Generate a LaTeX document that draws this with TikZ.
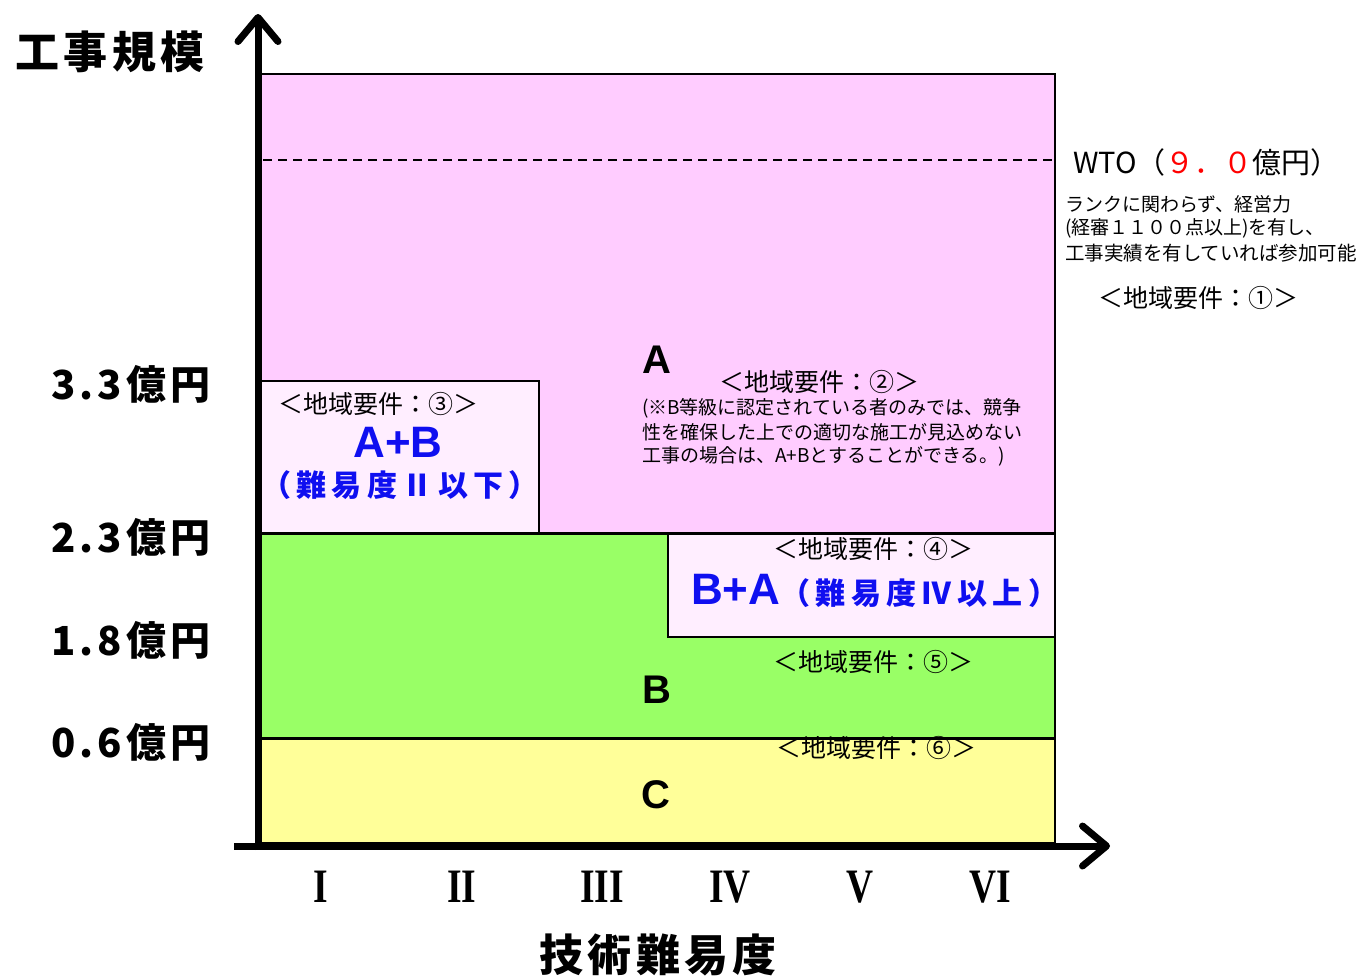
\documentclass[tikz,border=0pt]{standalone}
\usepackage{fontspec}
\usetikzlibrary{arrows.meta}
\setmainfont{Liberation Sans}
\newfontfamily\jp{Noto Sans CJK JP}
\newfontfamily\jpsa{Noto Sans CJK JP}[LetterSpace=10]
\newfontfamily\jpsb{Noto Sans CJK JP}[LetterSpace=18]
\newfontfamily\romanf{Liberation Serif}
\newcommand\fsz[1]{\fontsize{#1}{#1}\selectfont}
\definecolor{pinkA}{RGB}{255,204,255}
\definecolor{greenB}{RGB}{153,255,102}
\definecolor{yellowC}{RGB}{255,255,153}
\definecolor{lightbox}{RGB}{255,238,255}
\definecolor{tblue}{RGB}{15,15,240}
\definecolor{tred}{RGB}{255,0,0}
\begin{document}
\begin{tikzpicture}[x=1pt,y=-1pt,
  txt/.style={inner sep=0pt, outer sep=0pt},
  req/.style={txt, font=\jp\fsz{25}},
  small/.style={txt, font=\jp\fsz{19}, anchor=west},
  ylab/.style={txt, font=\jpsa\bfseries\fsz{40}, anchor=east},
  roman/.style={txt, font=\romanf\bfseries\fsz{48}, xscale=0.78},
  zone/.style={txt, font=\bfseries\fsz{40}},
  border/.style={line width=2.5pt},
  axis/.style={line width=7pt, -{Straight Barb[round,length=24pt,width=40pt]}}]
\useasboundingbox (0,0) rectangle (1366,975);
% regions
\fill[pinkA] (260,74) rectangle (1055,533);
\fill[greenB] (260,533) rectangle (1055,738);
\fill[yellowC] (260,738) rectangle (1055,843);
\fill[lightbox] (260,381) rectangle (539,533);
\fill[lightbox] (668,533) rectangle (1055,637);
\draw[line width=1.5pt, dash pattern=on 9pt off 6pt] (263,160) -- (1052,160);
\node[req] (r6) at (876,748) {＜地域要件：⑥＞};
% borders
\draw[border] (260,74) rectangle (1055,843);
\draw[line width=3pt] (260,533) -- (1055,533);
\draw[line width=3pt] (260,738) -- (1055,738);
\draw[border] (260,381) -| (539,533);
\draw[border] (668,533) |- (1055,637);
% axes
\coordinate (o1) at (258,850);
\coordinate (ytip) at (258,14);
\coordinate (o2) at (234,846);
\coordinate (xtip) at (1110,846);
\draw[axis] (o1) -- (ytip);
\draw[axis] (o2) -- (xtip);
% axis titles
\node[txt, font=\jpsa\bfseries\fsz{44}] (ytitle) at (110,52) {工事規模};
\node[txt, font=\jpsa\bfseries\fsz{44}] (xtitle) at (658,955) {技術難易度};
% y labels
\node[ylab] (y33) at (210,384) {3.3億円};
\node[ylab] (y23) at (210,537) {2.3億円};
\node[ylab] (y18) at (210,640) {1.8億円};
\node[ylab] (y06) at (210,742) {0.6億円};
% x labels
\node[roman] (r1) at (321,887) {I};
\node[roman] (r2) at (462,887) {II};
\node[roman] (r3) at (602,887) {III};
\node[roman] (r4) at (730,887) {IV};
\node[roman] (r5) at (860,887) {V};
\node[roman] (r6x) at (990,887) {VI};
% zones
\node[zone] (zA) at (657,360) {A};
\node[zone] (zB) at (657,690) {B};
\node[zone] (zC) at (656,795) {C};
% WTO
\node[txt, font=\jp\fsz{29}, anchor=west] (wto) at (1073,162) {WTO（{\color{tred}９．０}億円）};
\node[small] (w1) at (1065,204) {ランクに関わらず、経営力};
\node[small] (w2) at (1065,228) {(経審１１００点以上)を有し、};
\node[small, font=\jp\fsz{19.5}] (w3) at (1065,253) {工事実績を有していれば参加可能};
\node[req] (r1q) at (1198,298) {＜地域要件：①＞};
% A zone note
\node[req] (r2q) at (819,382) {＜地域要件：②＞};
\node[small] (n1) at (642,408) {(※B等級に認定されている者のみでは、競争};
\node[small] (n2) at (642,432) {性を確保した上での適切な施工が見込めない};
\node[small] (n3) at (642,456) {工事の場合は、A+Bとすることができる。)};
% A+B box
\node[req] (r3q) at (378,404) {＜地域要件：③＞};
\node[txt, font=\bfseries\fsz{44}, text=tblue] (ab) at (398,442) {A+B};
\node[txt, font=\jpsb\bfseries\fsz{30}, text=tblue] (ab2) at (400,485) {（難易度Ⅱ以下）};
% B+A box
\node[req] (r4q) at (873,549) {＜地域要件：④＞};
\node[txt, text=tblue, anchor=west] (ba) at (691,591) {{\bfseries\fsz{44}B+A}{\jpsb\bfseries\fsz{30}（難易度Ⅳ以上）}};
\node[req] (r5q) at (873,662) {＜地域要件：⑤＞};
\end{tikzpicture}
\end{document}
